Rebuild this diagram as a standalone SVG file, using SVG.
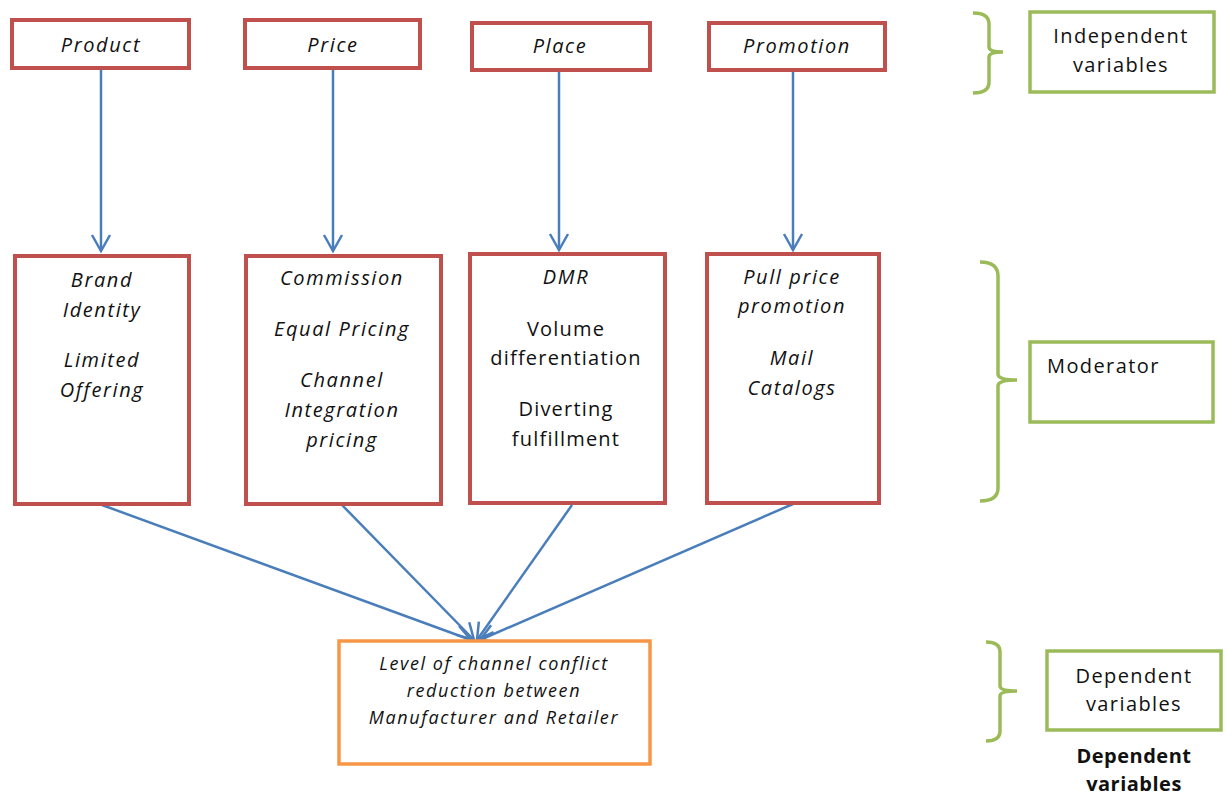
<svg xmlns="http://www.w3.org/2000/svg" width="1227" height="796" viewBox="0 0 1227 796">
<style>
.red{fill:#fff;stroke:#C0504D;stroke-width:4}
.org{fill:#fff;stroke:#F79646;stroke-width:3.5}
.grn{fill:#fff;stroke:#9BBB59;stroke-width:3.5}
.brace{fill:none;stroke:#9BBB59;stroke-width:3.5}
.it{font-family:"Open Sans","Liberation Sans",sans-serif;font-style:italic;font-size:20px;letter-spacing:1.6px;text-anchor:middle;fill:#111}
.rg{font-family:"Open Sans","Liberation Sans",sans-serif;font-size:20px;letter-spacing:1.2px;text-anchor:middle;fill:#111}
.sm{font-size:18px;letter-spacing:1.6px}
.lbl{font-family:"Open Sans","Liberation Sans",sans-serif;font-size:20px;letter-spacing:1.4px;text-anchor:middle;fill:#111}
.conn{stroke:#4A7EBB;stroke-width:2.5;fill:none}
</style>
<defs>
<marker id="v" markerUnits="userSpaceOnUse" viewBox="-20 -12 24 24" refX="0" refY="0" markerWidth="24" markerHeight="24" orient="auto" overflow="visible">
<path d="M-16,-9 L0,0 L-16,9" fill="none" stroke="#4A7EBB" stroke-width="2.5"/>
</marker>
</defs>

<g id="connectors">
<line class="conn" x1="101" y1="69" x2="101" y2="251" marker-end="url(#v)"/>
<line class="conn" x1="333" y1="69" x2="333" y2="251" marker-end="url(#v)"/>
<line class="conn" x1="559" y1="72" x2="559" y2="250" marker-end="url(#v)"/>
<line class="conn" x1="793" y1="72" x2="793" y2="250" marker-end="url(#v)"/>
<line class="conn" x1="102" y1="505" x2="471" y2="640" marker-end="url(#v)"/>
<line class="conn" x1="342" y1="505" x2="474" y2="640" marker-end="url(#v)"/>
<line class="conn" x1="572" y1="505" x2="477" y2="640" marker-end="url(#v)"/>
<line class="conn" x1="793" y1="504" x2="480" y2="640" marker-end="url(#v)"/>
</g>

<g id="product">
<rect class="red" x="12" y="20" width="177" height="48"/>
<text class="it" x="101" y="52">Product</text>
</g>
<g id="price">
<rect class="red" x="245" y="20" width="175" height="48"/>
<text class="it" x="333" y="52">Price</text>
</g>
<g id="place">
<rect class="red" x="472" y="23" width="178" height="47"/>
<text class="it" x="560" y="53">Place</text>
</g>
<g id="promotion">
<rect class="red" x="709" y="23" width="176" height="47"/>
<text class="it" x="797" y="53">Promotion</text>
</g>

<g id="brand">
<rect class="red" x="15" y="256" width="174" height="248"/>
<text class="it" x="102" y="287">Brand</text>
<text class="it" x="102" y="317">Identity</text>
<text class="it" x="102" y="367">Limited</text>
<text class="it" x="102" y="397">Offering</text>
</g>
<g id="commission">
<rect class="red" x="246" y="256" width="195" height="248"/>
<text class="it" x="342" y="285">Commission</text>
<text class="it" x="342" y="336">Equal Pricing</text>
<text class="it" x="342" y="387">Channel</text>
<text class="it" x="342" y="417">Integration</text>
<text class="it" x="342" y="447">pricing</text>
</g>
<g id="dmr">
<rect class="red" x="470" y="254" width="195" height="249"/>
<text class="it" x="566" y="284">DMR</text>
<text class="rg" x="566" y="336">Volume</text>
<text class="rg" x="566" y="365">differentiation</text>
<text class="rg" x="566" y="416">Diverting</text>
<text class="rg" x="566" y="446">fulfillment</text>
</g>
<g id="pull">
<rect class="red" x="707" y="254" width="172" height="249"/>
<text class="it" x="792" y="284">Pull price</text>
<text class="it" x="792" y="313">promotion</text>
<text class="it" x="792" y="365">Mail</text>
<text class="it" x="792" y="395">Catalogs</text>
</g>

<g id="outcome">
<rect class="org" x="339" y="641" width="311" height="123"/>
<text class="it sm" x="494" y="670">Level of channel conflict</text>
<text class="it sm" x="494" y="697">reduction between</text>
<text class="it sm" x="494" y="724">Manufacturer and Retailer</text>
</g>

<g id="independent">
<path class="brace" d="M973,13 Q989,13 989,24 L989,47 Q989,52 1003,52 Q989,52 989,57 L989,82 Q989,93 973,93"/>
<rect class="grn" x="1030" y="12" width="184" height="80"/>
<text class="lbl" x="1121" y="43">Independent</text>
<text class="lbl" x="1121" y="72">variables</text>
</g>
<g id="moderator">
<path class="brace" d="M980,262 Q998,262 998,276 L998,374 Q998,380 1017,380 Q998,380 998,386 L998,488 Q998,501 980,501"/>
<rect class="grn" x="1030" y="342" width="183" height="80"/>
<text class="lbl" x="1047" y="373" style="text-anchor:start">Moderator</text>
</g>
<g id="dependent">
<path class="brace" d="M986,642 Q1000,642 1000,652 L1000,686 Q1000,691 1017,691 Q1000,691 1000,696 L1000,731 Q1000,741 986,741"/>
<rect class="grn" x="1047" y="651" width="174" height="79"/>
<text class="lbl" x="1134" y="683">Dependent</text>
<text class="lbl" x="1134" y="711">variables</text>
<text class="lbl" x="1134" y="763" style="font-weight:bold;letter-spacing:0.5px">Dependent</text>
<text class="lbl" x="1134" y="791" style="font-weight:bold;letter-spacing:0.5px">variables</text>
</g>
</svg>
